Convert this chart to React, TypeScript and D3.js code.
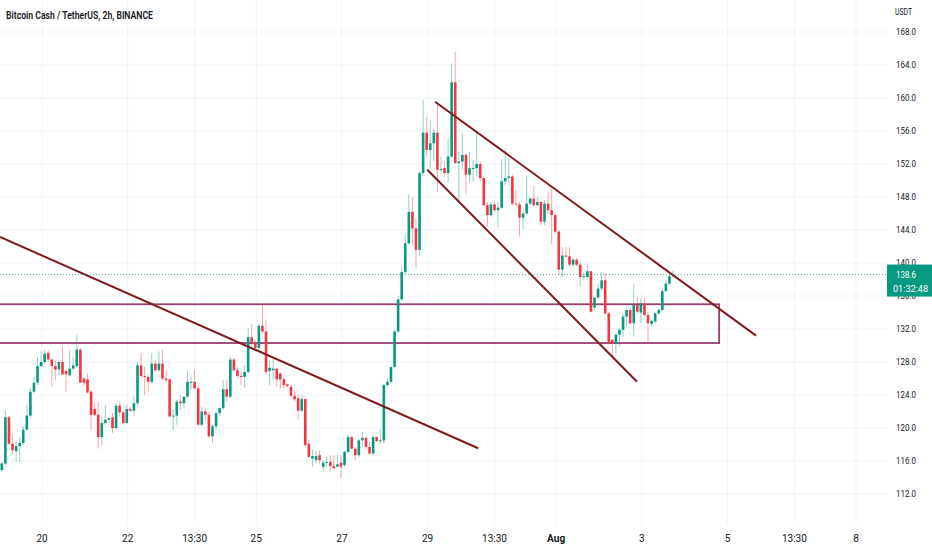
import * as d3 from "d3";

// ── data ────────────────────────────────────────────────────────────────
const TITLE = "Bitcoin Cash / TetherUS, 2h, BINANCE";
const UNIT = "USDT";
const LAST_PRICE = 138.6;
const COUNTDOWN = "01:32:48";

// first 2h bar opens 19 Jul 01:30
const FIRST_BAR = Date.UTC(2022, 6, 19, 1, 30);
const BAR_MS = 2 * 3600 * 1000;

// [open, high, low, close] — 19 Jul → 25 Jul
const barsWeek1: [number, number, number, number][] = [
  [114.9, 115.9, 114.7, 115.7], [115.7, 122.2, 115.5, 121.3], [121.3, 121.5, 117.9, 118.1],
  [118.1, 119.3, 116.8, 117.3], [117.2, 118.5, 115.9, 117.8], [117.8, 118.9, 115.9, 118.2],
  [118.2, 120.2, 117.9, 119.8], [119.8, 122.8, 119.7, 121.5], [121.5, 124.8, 121.2, 124.4],
  [124.4, 126.2, 124.2, 125.5], [125.5, 128.6, 125.2, 127.5], [127.5, 129.3, 127.4, 128.0],
  [128.0, 129.5, 127.8, 129.0], [129.1, 129.4, 128.0, 128.3], [128.3, 128.4, 125.0, 127.5],
  [127.5, 128.2, 125.8, 127.1], [127.1, 128.1, 126.4, 128.0], [128.0, 129.9, 126.4, 126.5],
  [126.9, 127.1, 124.4, 126.5], [126.4, 129.4, 126.2, 127.2], [127.2, 128.6, 127.0, 127.6],
  [127.5, 131.3, 127.4, 129.5], [129.5, 129.7, 125.4, 125.5], [126.0, 126.2, 125.2, 125.5],
  [125.9, 126.6, 124.2, 124.3], [124.4, 124.6, 119.8, 121.6], [122.3, 123.0, 121.4, 121.6],
  [121.6, 123.2, 117.5, 118.9], [118.9, 121.4, 117.9, 120.6], [120.6, 122.8, 120.4, 121.0],
  [121.0, 121.3, 120.6, 121.2], [121.3, 121.8, 119.4, 120.0], [120.0, 123.0, 119.8, 122.7],
  [122.7, 123.2, 121.4, 121.9], [121.9, 122.2, 120.4, 120.6], [120.6, 122.8, 120.5, 122.3],
  [122.3, 122.6, 121.9, 122.1], [122.1, 123.8, 121.4, 123.0], [123.0, 128.0, 122.6, 127.6],
  [127.6, 129.1, 126.0, 126.3], [126.3, 127.4, 124.0, 126.2], [126.2, 126.4, 124.4, 125.6],
  [125.6, 129.1, 125.4, 127.8], [127.8, 128.2, 126.8, 127.0], [127.0, 129.3, 126.8, 127.8],
  [127.8, 129.5, 125.8, 126.0], [126.0, 127.0, 125.5, 125.8], [125.9, 126.0, 121.3, 121.4],
  [121.4, 122.2, 119.8, 121.5], [121.5, 123.4, 120.4, 123.2], [123.2, 124.0, 122.2, 123.0],
  [123.0, 123.8, 122.4, 123.8], [123.8, 127.0, 123.6, 125.6], [125.6, 126.2, 124.6, 125.6],
  [125.6, 127.0, 124.8, 124.8], [124.8, 125.2, 120.2, 120.4], [120.4, 122.6, 120.2, 122.0],
  [122.0, 122.4, 121.0, 121.6], [121.6, 122.0, 118.8, 119.0], [119.0, 120.4, 118.2, 120.2],
  [120.2, 121.9, 119.8, 121.8], [121.8, 122.5, 121.5, 122.4], [122.4, 125.8, 122.2, 124.7],
  [124.7, 125.8, 123.2, 123.8], [123.8, 128.6, 123.6, 128.3], [128.3, 128.5, 126.8, 127.0],
  [127.0, 127.4, 126.0, 126.3], [126.3, 126.8, 125.2, 126.2], [126.2, 127.6, 124.9, 126.8],
  [126.8, 132.1, 126.6, 131.0], [131.0, 132.6, 129.9, 130.4], [130.4, 130.6, 129.6, 129.7],
  [129.7, 132.6, 129.5, 132.4], [132.4, 135.0, 131.5, 131.7], [131.7, 133.1, 126.5, 126.8],
];

// 25 Jul → 29 Jul (the dip and the breakout)
const barsWeek2: [number, number, number, number][] = [
  [126.9, 128.2, 125.2, 127.3], [127.0, 128.4, 125.8, 127.2], [127.2, 127.3, 125.0, 125.9],
  [126.6, 126.8, 124.8, 125.9], [125.9, 126.1, 124.8, 125.2], [125.3, 125.4, 124.9, 125.1],
  [125.0, 125.2, 123.6, 123.9], [123.9, 124.6, 123.2, 123.5], [123.6, 124.1, 121.0, 122.1],
  [122.1, 124.0, 122.0, 123.5], [123.5, 123.6, 117.9, 117.9], [118.1, 118.6, 116.4, 116.5],
  [116.3, 117.4, 115.3, 116.6], [116.1, 117.3, 115.7, 116.6], [116.7, 117.3, 115.7, 116.1],
  [115.3, 116.1, 114.6, 115.8], [115.8, 116.5, 115.3, 115.9], [115.9, 116.7, 114.6, 115.4],
  [115.4, 116.7, 115.1, 115.1], [115.3, 116.7, 115.3, 115.6], [115.8, 116.7, 113.9, 115.3],
  [115.5, 117.3, 115.3, 117.1], [117.1, 119.2, 116.9, 118.9], [118.9, 119.1, 117.4, 117.5],
  [117.5, 117.7, 116.1, 116.7], [116.7, 118.8, 116.5, 118.5], [118.5, 119.6, 117.7, 118.8],
  [118.8, 119.0, 117.4, 117.7], [117.7, 118.3, 116.7, 116.9], [116.9, 119.1, 116.7, 118.9],
  [118.9, 119.0, 118.3, 118.4], [118.4, 119.8, 118.1, 118.5], [118.5, 125.4, 118.1, 125.2],
  [125.2, 126.0, 125.0, 125.6], [125.6, 127.4, 125.4, 127.4], [127.4, 131.9, 127.2, 131.7],
  [131.7, 136.0, 131.5, 135.6], [135.6, 139.5, 135.5, 138.9], [138.9, 143.4, 138.6, 142.4],
  [142.4, 148.3, 142.2, 146.2], [146.2, 148.0, 142.2, 144.2], [144.2, 145.4, 139.3, 141.6],
  [141.6, 151.1, 140.9, 150.9],
];

// 29 Jul → 3 Aug (top and falling channel)
const barsWeek3: [number, number, number, number][] = [
  [150.9, 159.8, 150.5, 155.8], [155.8, 157.7, 152.9, 153.7], [153.7, 157.3, 151.5, 154.5],
  [154.5, 156.3, 152.3, 155.8], [155.8, 159.5, 148.6, 151.3], [151.3, 152.9, 151.0, 151.4],
  [151.5, 152.3, 150.4, 150.9], [150.9, 155.1, 149.8, 152.9], [152.9, 164.2, 152.7, 161.9],
  [161.9, 165.6, 152.0, 152.1], [152.1, 153.5, 147.4, 152.3], [152.3, 155.7, 151.3, 153.1],
  [153.1, 153.3, 148.4, 150.7], [150.7, 153.5, 149.9, 151.5], [151.4, 152.5, 149.9, 151.5],
  [151.5, 155.9, 150.5, 152.0], [152.0, 152.3, 149.9, 150.3], [150.3, 150.5, 147.0, 147.0],
  [147.0, 147.4, 144.4, 145.8], [145.8, 147.4, 145.6, 147.1], [147.1, 147.4, 146.2, 146.4],
  [146.4, 147.4, 144.3, 146.7], [146.7, 152.6, 146.6, 149.9], [149.9, 153.9, 149.4, 150.3],
  [150.3, 152.7, 149.4, 150.5], [150.5, 150.7, 147.0, 147.2], [147.2, 148.8, 147.0, 147.1],
  [147.1, 147.4, 143.2, 145.5], [145.5, 146.4, 144.1, 146.0], [146.0, 150.6, 145.8, 147.2],
  [147.2, 148.0, 147.0, 147.8], [147.8, 149.4, 146.8, 147.0], [147.0, 148.0, 146.9, 147.4],
  [147.4, 147.5, 144.6, 145.0], [145.0, 147.6, 144.6, 147.2], [147.2, 148.6, 146.0, 146.4],
  [146.4, 149.0, 142.3, 145.8], [145.8, 146.0, 143.6, 143.8], [143.8, 144.0, 138.5, 139.2],
  [139.2, 141.9, 138.3, 140.9], [140.9, 141.9, 140.7, 140.8], [140.8, 141.9, 139.6, 139.8],
  [139.8, 140.6, 139.6, 140.4], [140.4, 140.6, 139.6, 139.8], [139.8, 140.0, 137.1, 138.3],
  [138.3, 138.9, 137.9, 138.4], [138.3, 139.8, 138.0, 139.0], [139.0, 139.0, 134.0, 134.1],
  [134.6, 135.9, 134.3, 135.8], [135.8, 137.5, 135.7, 136.9], [136.9, 138.9, 136.6, 137.9],
  [137.9, 138.8, 133.7, 133.9], [133.9, 134.1, 130.1, 130.3], [130.7, 130.7, 128.6, 130.2],
  [130.2, 131.5, 129.0, 131.3], [131.3, 132.1, 129.9, 131.9], [131.9, 133.9, 131.1, 133.5],
  [133.5, 134.7, 132.3, 134.3], [134.3, 134.6, 132.4, 132.7], [132.7, 137.5, 131.1, 134.9],
  [134.9, 135.9, 133.9, 134.1], [134.0, 135.7, 132.7, 135.1], [135.1, 135.7, 133.5, 133.7],
  [133.7, 134.1, 130.3, 132.7], [132.6, 133.1, 132.3, 133.0], [132.9, 134.1, 132.7, 133.9],
  [133.9, 134.5, 133.7, 134.3], [134.3, 136.9, 134.1, 136.6], [136.6, 137.9, 136.5, 137.5],
  [137.5, 138.9, 137.3, 138.4], [138.4, 139.1, 138.3, 138.6],
];

const priceTicks = [168, 164, 160, 156, 152, 148, 144, 140, 136, 132, 128, 124, 120, 116, 112];

const timeTicks: { t: number; label: string; bold?: boolean }[] = [
  { t: Date.UTC(2022, 6, 20), label: "20" },
  { t: Date.UTC(2022, 6, 22), label: "22" },
  { t: Date.UTC(2022, 6, 23, 13, 30), label: "13:30" },
  { t: Date.UTC(2022, 6, 25), label: "25" },
  { t: Date.UTC(2022, 6, 27), label: "27" },
  { t: Date.UTC(2022, 6, 29), label: "29" },
  { t: Date.UTC(2022, 6, 30, 13, 30), label: "13:30" },
  { t: Date.UTC(2022, 7, 1), label: "Aug", bold: true },
  { t: Date.UTC(2022, 7, 3), label: "3" },
  { t: Date.UTC(2022, 7, 5), label: "5" },
  { t: Date.UTC(2022, 7, 6, 13, 30), label: "13:30" },
  { t: Date.UTC(2022, 7, 8), label: "8" },
];

// drawn trend lines: [time, price] → [time, price]
const trendLines: [number, number, number, number][] = [
  [Date.UTC(2022, 6, 19, 0, 30), 143.15, Date.UTC(2022, 6, 30, 4, 20), 117.55],
  [Date.UTC(2022, 6, 29, 4, 10), 159.55, Date.UTC(2022, 7, 5, 16, 0), 131.2],
  [Date.UTC(2022, 6, 28, 23, 50), 151.3, Date.UTC(2022, 7, 2, 21, 20), 125.6],
];

// support / resistance zone
const zone = { from: Date.UTC(2022, 6, 18), to: Date.UTC(2022, 7, 4, 19, 20), low: 130.3, high: 135.0 };

// ── layout ──────────────────────────────────────────────────────────────
const W = 932;
const H = 550;
const PANE_R = 887;
const AXIS_TOP = 524;
const UP = "#089981";
const DOWN = "#f23645";
const GRID = "#f0f3fa";
const TEXT = "#131722";
const FONT = "Roboto, 'Noto Sans', sans-serif";

export default function App() {
  const bars = [...barsWeek1, ...barsWeek2, ...barsWeek3];

  const x = d3
    .scaleUtc()
    .domain([Date.UTC(2022, 6, 20), Date.UTC(2022, 7, 8)])
    .range([42, 856]);
  const y = d3.scaleLinear().domain([112, 168]).range([494, 32]);

  const bodyW = 2.6;
  const lastY = y(LAST_PRICE);

  return (
    <svg
      width={W}
      height={H}
      style={{ position: "absolute", left: 0, top: 0, background: "#fff" }}
      fontFamily={FONT}
    >
      <defs>
        <clipPath id="pane">
          <rect x={0} y={0} width={PANE_R} height={AXIS_TOP} />
        </clipPath>
      </defs>

      {/* grid */}
      <g>
        {timeTicks.map((d, i) => (
          <line key={"v" + i} x1={x(d.t)} x2={x(d.t)} y1={0} y2={AXIS_TOP} stroke={GRID} />
        ))}
        {priceTicks.map((p) => (
          <line key={"h" + p} x1={0} x2={PANE_R} y1={y(p)} y2={y(p)} stroke={GRID} />
        ))}
      </g>

      <g clipPath="url(#pane)">
        {/* zone */}
        <rect
          x={x(zone.from)}
          y={y(zone.high)}
          width={x(zone.to) - x(zone.from)}
          height={y(zone.low) - y(zone.high)}
          fill="none"
          stroke="#9a3f72"
          strokeWidth={1.8}
        />

        {/* candles */}
        {bars.map(([o, h, l, c], i) => {
          const cx = x(FIRST_BAR + i * BAR_MS);
          const up = c >= o;
          const top = y(Math.max(o, c));
          const bh = Math.max(1, Math.abs(y(o) - y(c)));
          return (
            <g key={i}>
              <line
                x1={cx}
                x2={cx}
                y1={y(h)}
                y2={y(l)}
                stroke={up ? "rgba(8,153,129,0.45)" : "rgba(242,54,69,0.45)"}
                strokeWidth={1}
              />
              <rect x={cx - bodyW / 2} y={top} width={bodyW} height={bh} fill={up ? UP : DOWN} />
            </g>
          );
        })}

        {/* trend lines */}
        {trendLines.map(([t0, p0, t1, p1], i) => (
          <line
            key={"t" + i}
            x1={x(t0)}
            y1={y(p0)}
            x2={x(t1)}
            y2={y(p1)}
            stroke="#7f1a1c"
            strokeWidth={2}
          />
        ))}

        {/* last price line */}
        <line
          x1={0}
          x2={PANE_R}
          y1={lastY}
          y2={lastY}
          stroke={UP}
          strokeWidth={1}
          strokeDasharray="1 2"
          opacity={0.7}
        />
      </g>

      {/* title */}
      <text x={6} y={19} fontSize={11} fontWeight={600} fill={TEXT} textLength={147} lengthAdjust="spacingAndGlyphs">
        {TITLE}
      </text>

      {/* price axis */}
      <text x={895} y={15} fontSize={9} fill={TEXT} textLength={17} lengthAdjust="spacingAndGlyphs">
        {UNIT}
      </text>
      {priceTicks.map((p) => (
        <text
          key={"pl" + p}
          x={896}
          y={y(p)}
          dy="0.35em"
          fontSize={9.5}
          fill={TEXT}
          textLength={20}
          lengthAdjust="spacingAndGlyphs"
        >
          {p.toFixed(1)}
        </text>
      ))}

      {/* last price label (covers the 136.0 tick, as in the source) */}
      <rect x={PANE_R} y={lastY - 10} width={W - PANE_R} height={32} fill={UP} />
      <text x={896} y={lastY} dy="0.35em" fontSize={9.5} fill="#fff" textLength={20} lengthAdjust="spacingAndGlyphs">
        {LAST_PRICE.toFixed(1)}
      </text>
      <text x={893} y={lastY + 14} dy="0.35em" fontSize={9.5} fill="#fff" textLength={35} lengthAdjust="spacingAndGlyphs">
        {COUNTDOWN}
      </text>

      {/* time axis */}
      {timeTicks.map((d, i) => (
        <text
          key={"tl" + i}
          x={x(d.t)}
          y={538}
          dy="0.35em"
          textAnchor="middle"
          fontSize={10}
          fontWeight={d.bold ? 700 : 400}
          fill={TEXT}
        >
          {d.label}
        </text>
      ))}
    </svg>
  );
}
